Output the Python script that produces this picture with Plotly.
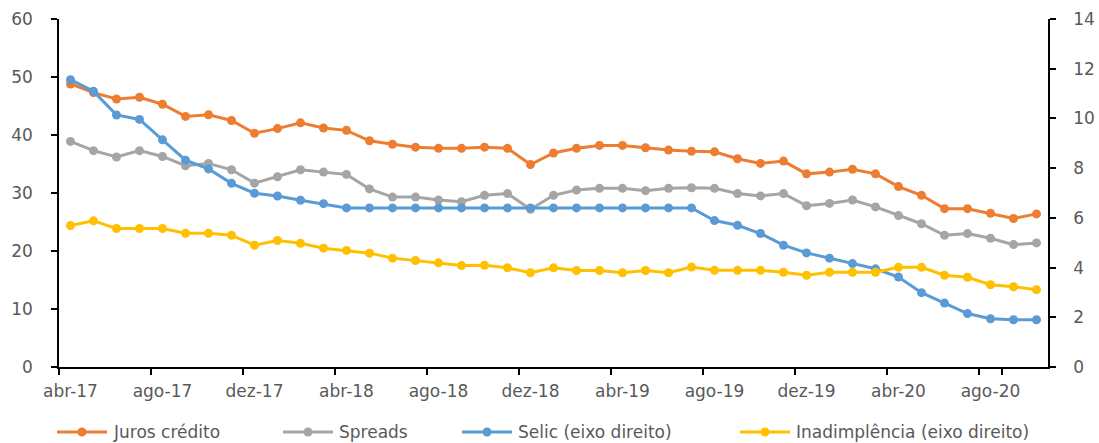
import plotly.graph_objects as go

# Monthly categories, abr-17 .. out-20
MESES = ["jan", "fev", "mar", "abr", "mai", "jun", "jul", "ago", "set", "out", "nov", "dez"]
meses = []
for ano in (17, 18, 19, 20):
    for m in MESES:
        meses.append(f"{m}-{ano}")
meses = meses[meses.index("abr-17"):meses.index("out-20") + 1]

# Left axis (% a.a.)
juros_credito = [48.8, 47.3, 46.2, 46.5, 45.3, 43.2, 43.5, 42.5, 40.3, 41.1,
                 42.1, 41.2, 40.8, 39.0, 38.4, 37.9, 37.7, 37.7, 37.9, 37.7,
                 34.9, 36.9, 37.7, 38.2, 38.2, 37.8, 37.4, 37.2, 37.1, 35.9,
                 35.1, 35.5, 33.3, 33.6, 34.1, 33.3, 31.1, 29.6, 27.3, 27.3,
                 26.5, 25.6, 26.4]
spreads = [38.9, 37.3, 36.2, 37.3, 36.3, 34.7, 35.1, 34.0, 31.7, 32.8,
           34.0, 33.6, 33.2, 30.7, 29.3, 29.3, 28.8, 28.5, 29.6, 29.9,
           27.2, 29.6, 30.5, 30.8, 30.8, 30.4, 30.8, 30.9, 30.8, 29.9,
           29.5, 29.9, 27.8, 28.2, 28.8, 27.6, 26.1, 24.7, 22.7, 23.0,
           22.2, 21.1, 21.4]

# Right axis
selic = [11.56, 11.09, 10.14, 9.96, 9.14, 8.32, 7.97, 7.39, 6.99, 6.88,
         6.71, 6.57, 6.40, 6.40, 6.40, 6.40, 6.40, 6.40, 6.40, 6.40,
         6.40, 6.40, 6.40, 6.40, 6.40, 6.40, 6.40, 6.40, 5.89, 5.70,
         5.37, 4.90, 4.59, 4.38, 4.16, 3.95, 3.62, 2.99, 2.57, 2.15,
         1.94, 1.90, 1.90]
inadimplencia = [5.69, 5.88, 5.57, 5.57, 5.57, 5.38, 5.38, 5.30, 4.90, 5.09,
                 4.98, 4.78, 4.69, 4.58, 4.38, 4.28, 4.19, 4.08, 4.09, 3.99,
                 3.79, 3.99, 3.88, 3.88, 3.79, 3.88, 3.79, 4.02, 3.89, 3.89,
                 3.89, 3.81, 3.69, 3.81, 3.81, 3.81, 4.01, 4.01, 3.69, 3.61,
                 3.31, 3.23, 3.11]

rotulos_x = meses[::4]

FONT = "DejaVu Sans"
TXT = "#595959"

series = [
    ("Juros crédito", juros_credito, "#ED7D31", "y"),
    ("Spreads", spreads, "#A5A5A5", "y"),
    ("Selic (eixo direito)", selic, "#5B9BD5", "y2"),
    ("Inadimplência (eixo direito)", inadimplencia, "#FFC000", "y2"),
]

fig = go.Figure()
for nome, vals, cor, eixo in series:
    fig.add_trace(go.Scatter(
        x=meses, y=vals, name=nome, yaxis=eixo,
        mode="lines+markers",
        line=dict(color=cor, width=3),
        marker=dict(color=cor, size=9),
        showlegend=False,
    ))

# Legend row below the plot: line sample with a dot, then the series name
PLOT_L, PLOT_W, PLOT_B, PLOT_H = 59, 989, 367, 348
def px_x(px):
    return (px - PLOT_L) / PLOT_W
def px_y(py):
    return (PLOT_B - py) / PLOT_H

leg_y = px_y(432)
leg_starts = [57, 283, 462, 740]
leg_sample = 50
for (nome, _, cor, _), x0 in zip(series, leg_starts):
    fig.add_shape(type="line", xref="paper", yref="paper",
                  x0=px_x(x0), x1=px_x(x0 + leg_sample), y0=leg_y, y1=leg_y,
                  line=dict(color=cor, width=3))
    xc = x0 + leg_sample / 2
    fig.add_shape(type="circle", xref="paper", yref="paper",
                  x0=px_x(xc - 4.5), x1=px_x(xc + 4.5),
                  y0=leg_y - 4.5 / PLOT_H, y1=leg_y + 4.5 / PLOT_H,
                  line=dict(width=0), fillcolor=cor)
    fig.add_annotation(text=nome, xref="paper", yref="paper",
                       x=px_x(x0 + leg_sample + 4), y=leg_y,
                       xanchor="left", yanchor="middle", showarrow=False,
                       font=dict(family=FONT, size=17, color=TXT))

fig.update_layout(
    width=1099, height=443,
    margin=dict(l=59, r=51, t=19, b=76),
    paper_bgcolor="white", plot_bgcolor="white",
    font=dict(family=FONT, size=17, color=TXT),
    showlegend=False,
    xaxis=dict(
        type="category", range=[-0.5, len(meses) - 0.5],
        tickmode="array", tickvals=rotulos_x, ticktext=rotulos_x,
        tickson="boundaries", ticks="outside", ticklen=6, tickwidth=1.5,
        tickcolor="black", showline=True, linecolor="black", linewidth=1.5,
        showgrid=False, zeroline=False, tickangle=0, automargin=False,
        ticklabelstandoff=8,
    ),
    yaxis=dict(
        range=[0, 60], dtick=10, ticks="outside", ticklen=6, tickwidth=1.5,
        tickcolor="black", showline=True, linecolor="black", linewidth=1.5,
        showgrid=False, zeroline=False, ticklabelstandoff=15, automargin=False,
    ),
    yaxis2=dict(
        range=[0, 14], dtick=2, overlaying="y", side="right",
        ticks="outside", ticklen=6, tickwidth=1.5, tickcolor="black",
        showline=True, linecolor="black", linewidth=1.5,
        showgrid=False, zeroline=False, ticklabelstandoff=14, automargin=False,
    ),
)

fig.write_html("out.html")
